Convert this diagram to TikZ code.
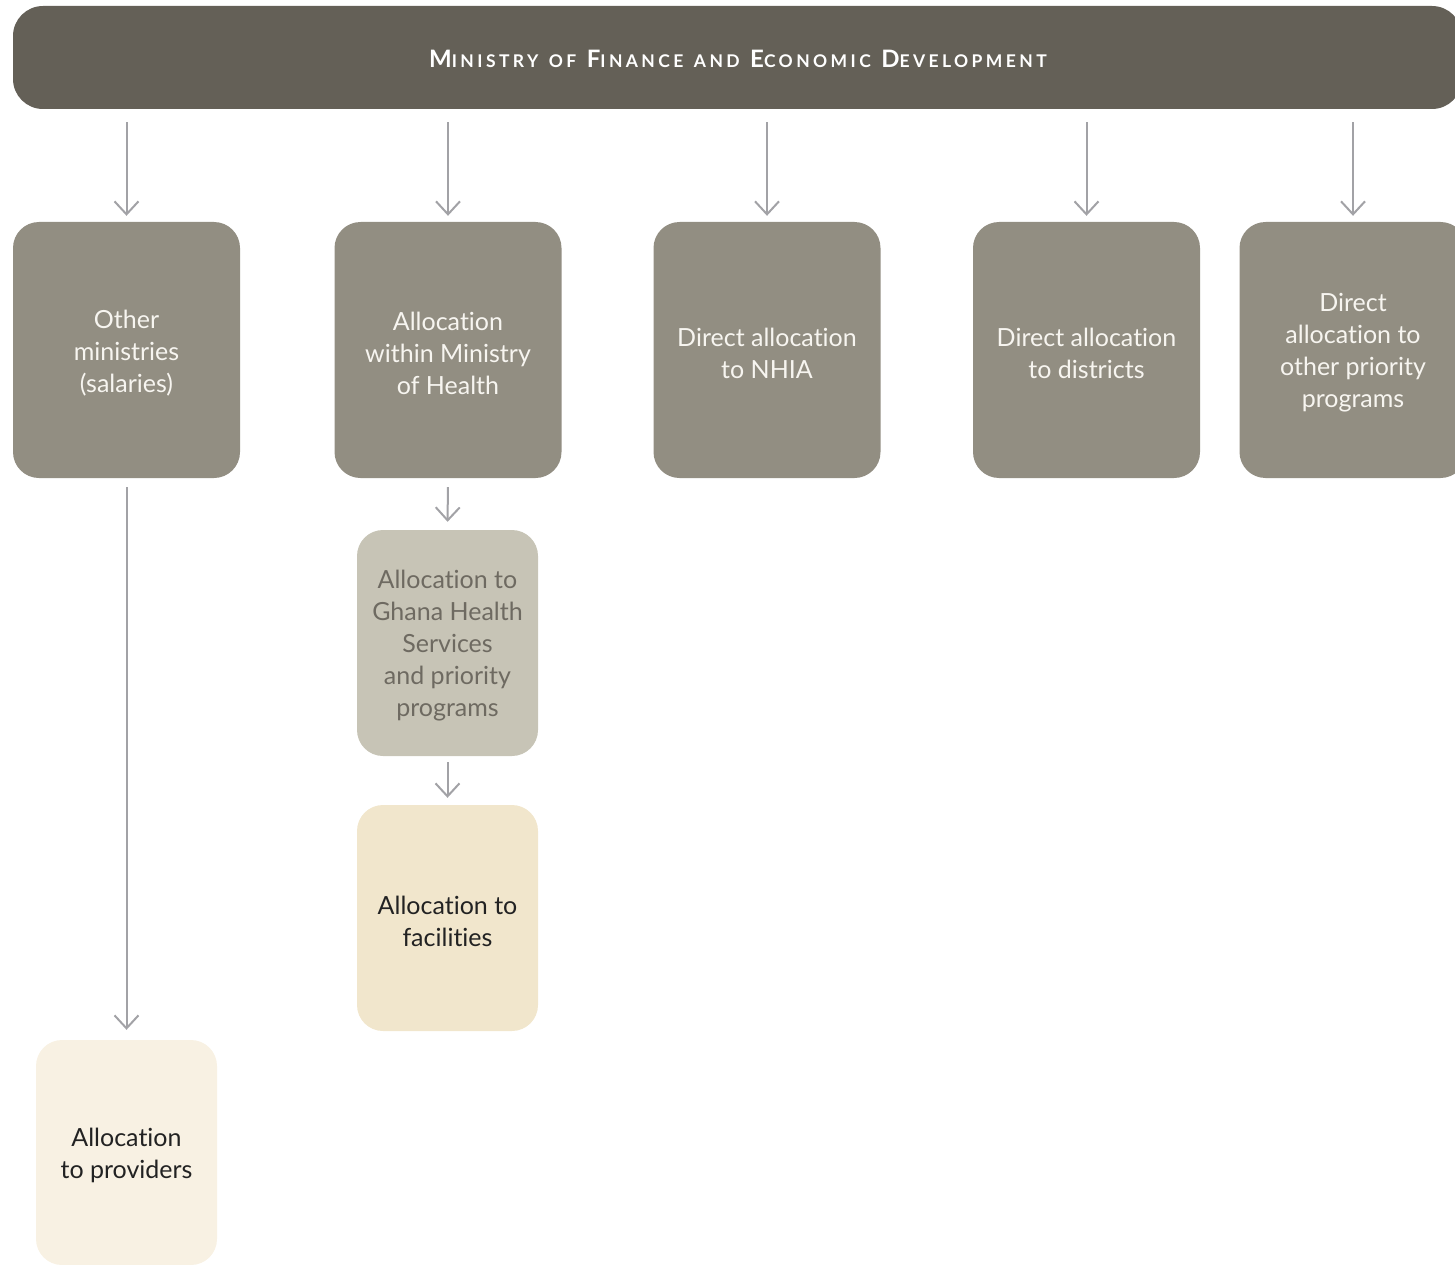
\documentclass[tikz,border=0pt]{standalone}
\usepackage{fontspec}
\setmainfont{Lato}[RawFeature={-liga;-clig;-dlig;-calt;-rlig}]
\newfontfamily\titlefont[LetterSpace=19.5,RawFeature={-liga;-clig;-dlig;-calt;-rlig}]{Lato}
\usetikzlibrary{arrows.meta}
\definecolor{topc}{HTML}{646057}
\definecolor{midc}{HTML}{928E82}
\definecolor{ghc}{HTML}{C7C4B6}
\definecolor{facc}{HTML}{F1E6CC}
\definecolor{provc}{HTML}{F8F1E3}
\definecolor{arrc}{HTML}{A2A2A6}
\definecolor{ghtext}{HTML}{6E6A61}
\definecolor{darktext}{HTML}{222222}
\definecolor{lighttext}{HTML}{F7F5F0}
\newcommand{\smc}[1]{{\fontsize{17.5}{17.5}\selectfont #1}}
\begin{document}
\begin{tikzpicture}[x=1pt,y=-1pt,
  box/.style={rounded corners=26pt, inner sep=0pt},
  txt/.style={inner sep=0pt, align=center, font=\fontsize{25}{32}\selectfont},
  midbox/.style={box, fill=midc, minimum width=227pt, minimum height=256pt},
  lowbox/.style={box, minimum width=181pt, minimum height=226pt},
  arr/.style={draw=arrc, line width=2pt, -{Straight Barb[length=13pt,width=24pt,line width=2pt]}}]
\useasboundingbox (0,0) rectangle (1455,1265);
\node[fill=topc, rounded corners=30pt, minimum width=1449pt, minimum height=103pt, inner sep=0pt] (mof) at (737.5,57.5) {};
\node[text=white, inner sep=0pt, anchor=base] (title) at (738,68)
  {\titlefont\bfseries\fontsize{24}{24}\selectfont M\smc{INISTRY} \smc{OF} F\smc{INANCE} \smc{AND} E\smc{CONOMIC} D\smc{EVELOPMENT}};
\node[midbox] (b1) at (126.5,350) {};
\node[midbox] (b2) at (448,350) {};
\node[midbox] (b3) at (767,350) {};
\node[midbox] (b4) at (1086.5,350) {};
\node[midbox] (b5) at (1353,350) {};
\node[lowbox, fill=ghc] (gh) at (447.5,643) {};
\node[lowbox, fill=facc] (fac) at (447.5,918) {};
\node[lowbox, fill=provc, minimum height=225pt] (prov) at (126.5,1152.5) {};
\node[txt, text=lighttext] (t1) at ([yshift=-3pt]b1.center) {Other\\ministries\\(salaries)};
\node[txt, text=lighttext] (t2) at ([yshift=-3pt]b2.center) {Allocation\\within Ministry\\of Health};
\node[txt, text=lighttext] (t3) at ([yshift=-3pt]b3.center) {Direct allocation\\to NHIA};
\node[txt, text=lighttext] (t4) at ([yshift=-3pt]b4.center) {Direct allocation\\to districts};
\node[txt, text=lighttext] (t5) at ([yshift=-3pt]b5.center) {Direct\\allocation to\\other priority\\programs};
\node[txt, text=ghtext] (tg) at ([yshift=-3pt]gh.center) {Allocation to\\Ghana Health\\Services\\and priority\\programs};
\node[txt, text=darktext] (tf) at ([yshift=-3pt]fac.center) {Allocation to\\facilities};
\node[txt, text=darktext] (tp) at ([yshift=-3pt]prov.center) {Allocation\\to providers};
\foreach \b in {b1,b2,b3,b4,b5}
  \draw[arr, shorten <=13pt, shorten >=6pt] (mof.south -| \b.north) -- (\b.north);
\draw[arr, shorten <=9pt, shorten >=10pt] (b1.south) -- (prov.north);
\draw[arr, shorten <=9pt, shorten >=8pt] (b2.south) -- (gh.north);
\draw[arr, shorten <=6pt, shorten >=7pt] (gh.south) -- (fac.north);
\end{tikzpicture}
\end{document}
